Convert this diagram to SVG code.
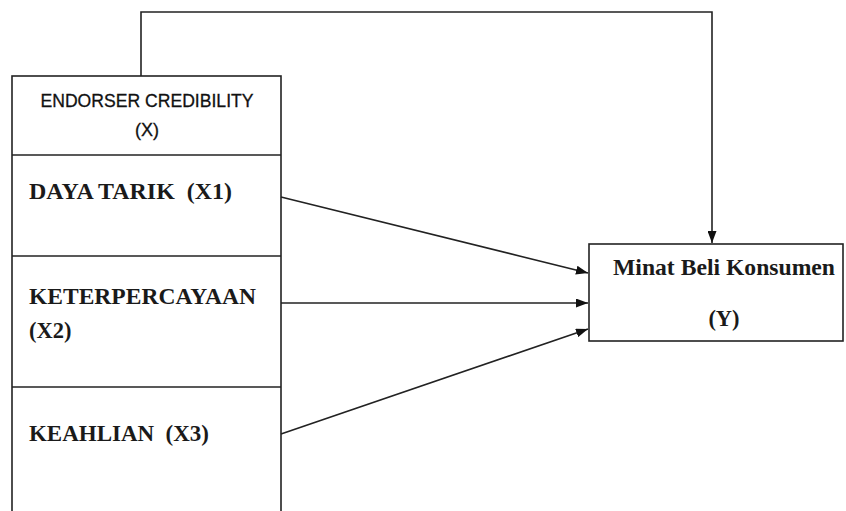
<svg xmlns="http://www.w3.org/2000/svg" width="846" height="511" viewBox="0 0 846 511">
<defs>
<style>
.box{fill:#fff;stroke:#222;stroke-width:1.6}
.ln{fill:none;stroke:#222;stroke-width:1.6}
.serif{font-family:"Liberation Serif","Times New Roman",serif;font-weight:bold;font-size:22.5px;fill:#1a1a1a}
.sans{font-family:"Liberation Sans",Arial,sans-serif;font-size:18px;fill:#111;stroke:#111;stroke-width:0.3}
</style>
<marker id="arr" viewBox="0 0 12 9" refX="12" refY="4.5" markerWidth="12" markerHeight="9" markerUnits="userSpaceOnUse" orient="auto">
<path d="M0,0 L12,4.5 L0,9 Z" fill="#111"/>
</marker>
</defs>
<rect width="846" height="511" fill="#fff"/>
<g id="endorser">
<rect class="box" x="12" y="76" width="269" height="450"/>
<text class="sans" x="147" y="107" text-anchor="middle" textLength="213" lengthAdjust="spacingAndGlyphs">ENDORSER CREDIBILITY</text>
<text class="sans" x="147" y="136" text-anchor="middle">(X)</text>
</g>
<g id="x1">
<line class="ln" x1="12" y1="155" x2="281" y2="155"/>
<text class="serif" x="29" y="199" textLength="203" lengthAdjust="spacingAndGlyphs" xml:space="preserve">DAYA TARIK  (X1)</text>
</g>
<g id="x2">
<line class="ln" x1="12" y1="256" x2="281" y2="256"/>
<text class="serif" x="29" y="304" textLength="227" lengthAdjust="spacingAndGlyphs">KETERPERCAYAAN</text>
<text class="serif" x="29" y="338">(X2)</text>
</g>
<g id="x3">
<line class="ln" x1="12" y1="387" x2="281" y2="387"/>
<text class="serif" x="29" y="441" textLength="180" lengthAdjust="spacingAndGlyphs" xml:space="preserve">KEAHLIAN  (X3)</text>
</g>
<g id="y">
<rect class="box" x="589" y="244" width="254" height="97"/>
<text class="serif" x="724" y="275" text-anchor="middle" textLength="222" lengthAdjust="spacingAndGlyphs">Minat Beli Konsumen</text>
<text class="serif" x="724" y="326" text-anchor="middle">(Y)</text>
</g>
<g id="connectors">
<path class="ln" d="M141,76 V12 H712 V243" marker-end="url(#arr)"/>
<line class="ln" x1="281" y1="197" x2="588" y2="273" marker-end="url(#arr)"/>
<line class="ln" x1="281" y1="303" x2="588" y2="303" marker-end="url(#arr)"/>
<line class="ln" x1="281" y1="434" x2="588" y2="329" marker-end="url(#arr)"/>
</g>
</svg>
